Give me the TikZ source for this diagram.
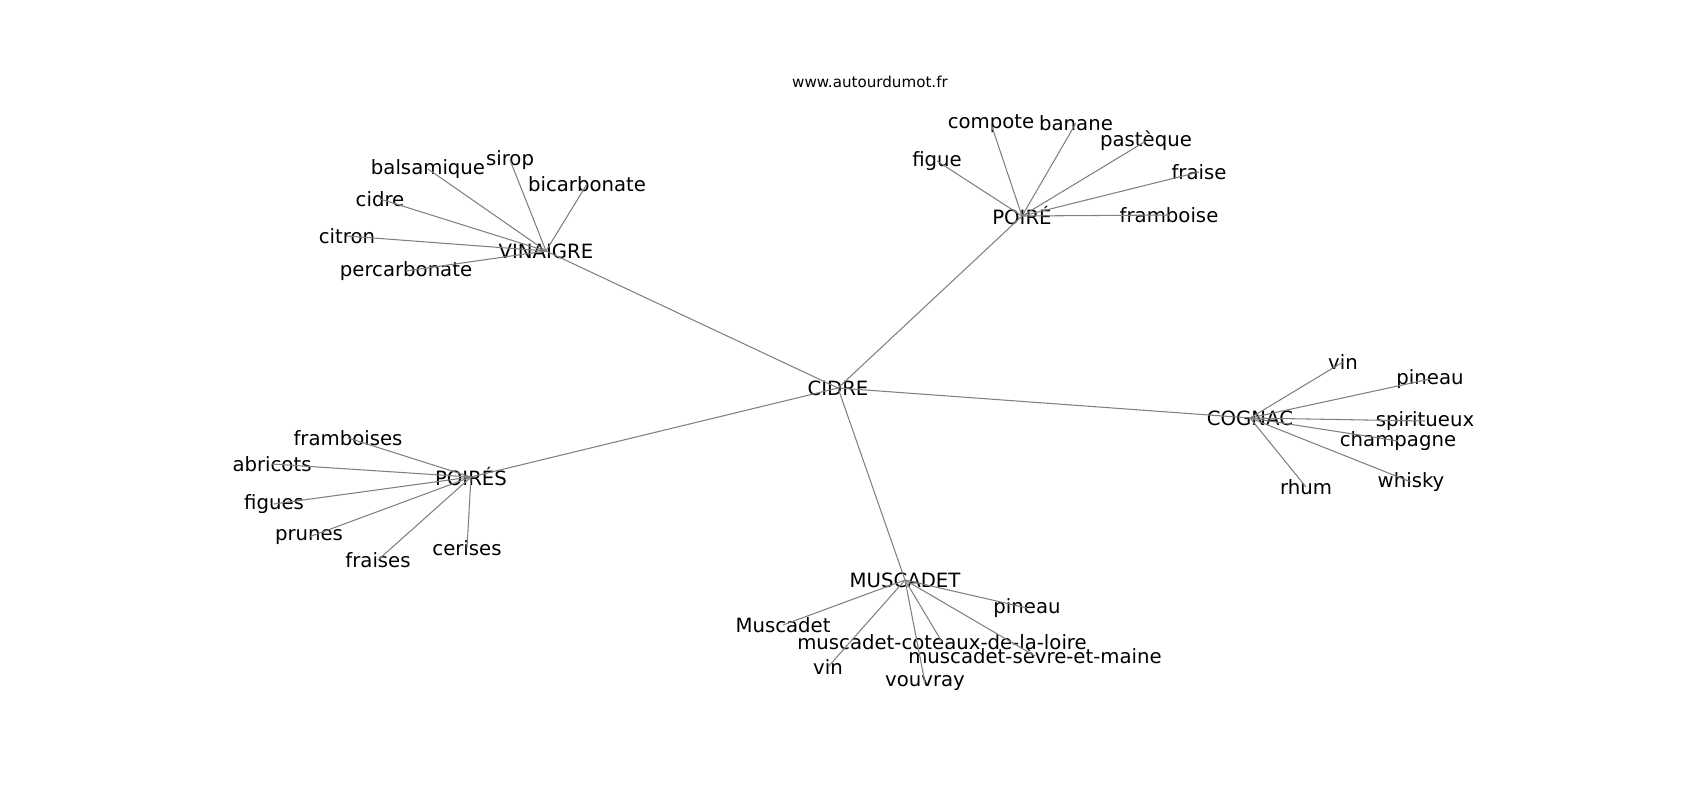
\documentclass[tikz,border=0pt]{standalone}
\usepackage{fontspec}
\setmainfont{DejaVu Sans}
\tikzset{
	word/.style={inner sep=0pt, font=\fontsize{5.6pt}{6pt}\selectfont},
	link/.style={draw=black!50, line width=0.3pt}
}

\begin{document}
\begin{tikzpicture}[x=0.01cm, y=-0.01cm]
	\useasboundingbox (0,0) rectangle (1700,800);
	\node [word, font=\fontsize{4.3pt}{5pt}\selectfont] (title) at (870,82) {www.autourdumot.fr};

	% hubs
	\node [word] (cidre) at (838,388) {CIDRE};
	\node [word] (vinaigre) at (546,251) {VINAIGRE};
	\node [word] (poire) at (1022,216) {POIRÉ};
	\node [word] (cognac) at (1250,418) {COGNAC};
	\node [word] (poires) at (471,477) {POIRÉS};
	\node [word] (muscadet) at (905,580) {MUSCADET};

	\foreach \h in {vinaigre,poire,cognac,poires,muscadet}
		\draw [link] (cidre.center) -- (\h.center);

	% leaves
	\foreach \n/\x/\y/\t in {
			v1/428/169/balsamique, v2/510/160/sirop, v3/587/184/bicarbonate,
			v4/380/199/cidre, v5/347/236/citron, v6/406/271/percarbonate}{
		\node [word] (\n) at (\x,\y) {\t};
		\draw [link] (vinaigre.center) -- (\n.center);
	}
	\foreach \n/\x/\y/\t in {
			p1/991/124/compote, p2/1076/123/banane, p3/1146/141/pastèque,
			p4/937/161/figue, p5/1199/172/fraise, p6/1169/215/framboise}{
		\node [word] (\n) at (\x,\y) {\t};
		\draw [link] (poire.center) -- (\n.center);
	}
	\foreach \n/\x/\y/\t in {
			c1/1343/362/vin, c2/1430/379/pineau, c3/1425/421/spiritueux,
			c4/1398/441/champagne, c5/1306/487/rhum, c6/1411/482/whisky}{
		\node [word] (\n) at (\x,\y) {\t};
		\draw [link] (cognac.center) -- (\n.center);
	}
	\foreach \n/\x/\y/\t in {
			s1/348/438/framboises, s2/272/464/abricots, s3/274/504/figues,
			s4/309/537/prunes, s5/378/560/fraises, s6/467/548/cerises}{
		\node [word] (\n) at (\x,\y) {\t};
		\draw [link] (poires.center) -- (\n.center);
	}
	\foreach \n/\x/\y/\t in {
			m1/783/625/Muscadet, m2/1027/608/pineau, m3/942/642/muscadet-coteaux-de-la-loire,
			m4/1035/656/muscadet-sèvre-et-maine, m5/828/667/vin, m6/925/683/vouvray}{
		\node [word] (\n) at (\x,\y) {\t};
		\draw [link] (muscadet.center) -- (\n.center);
	}
\end{tikzpicture}
\end{document}
